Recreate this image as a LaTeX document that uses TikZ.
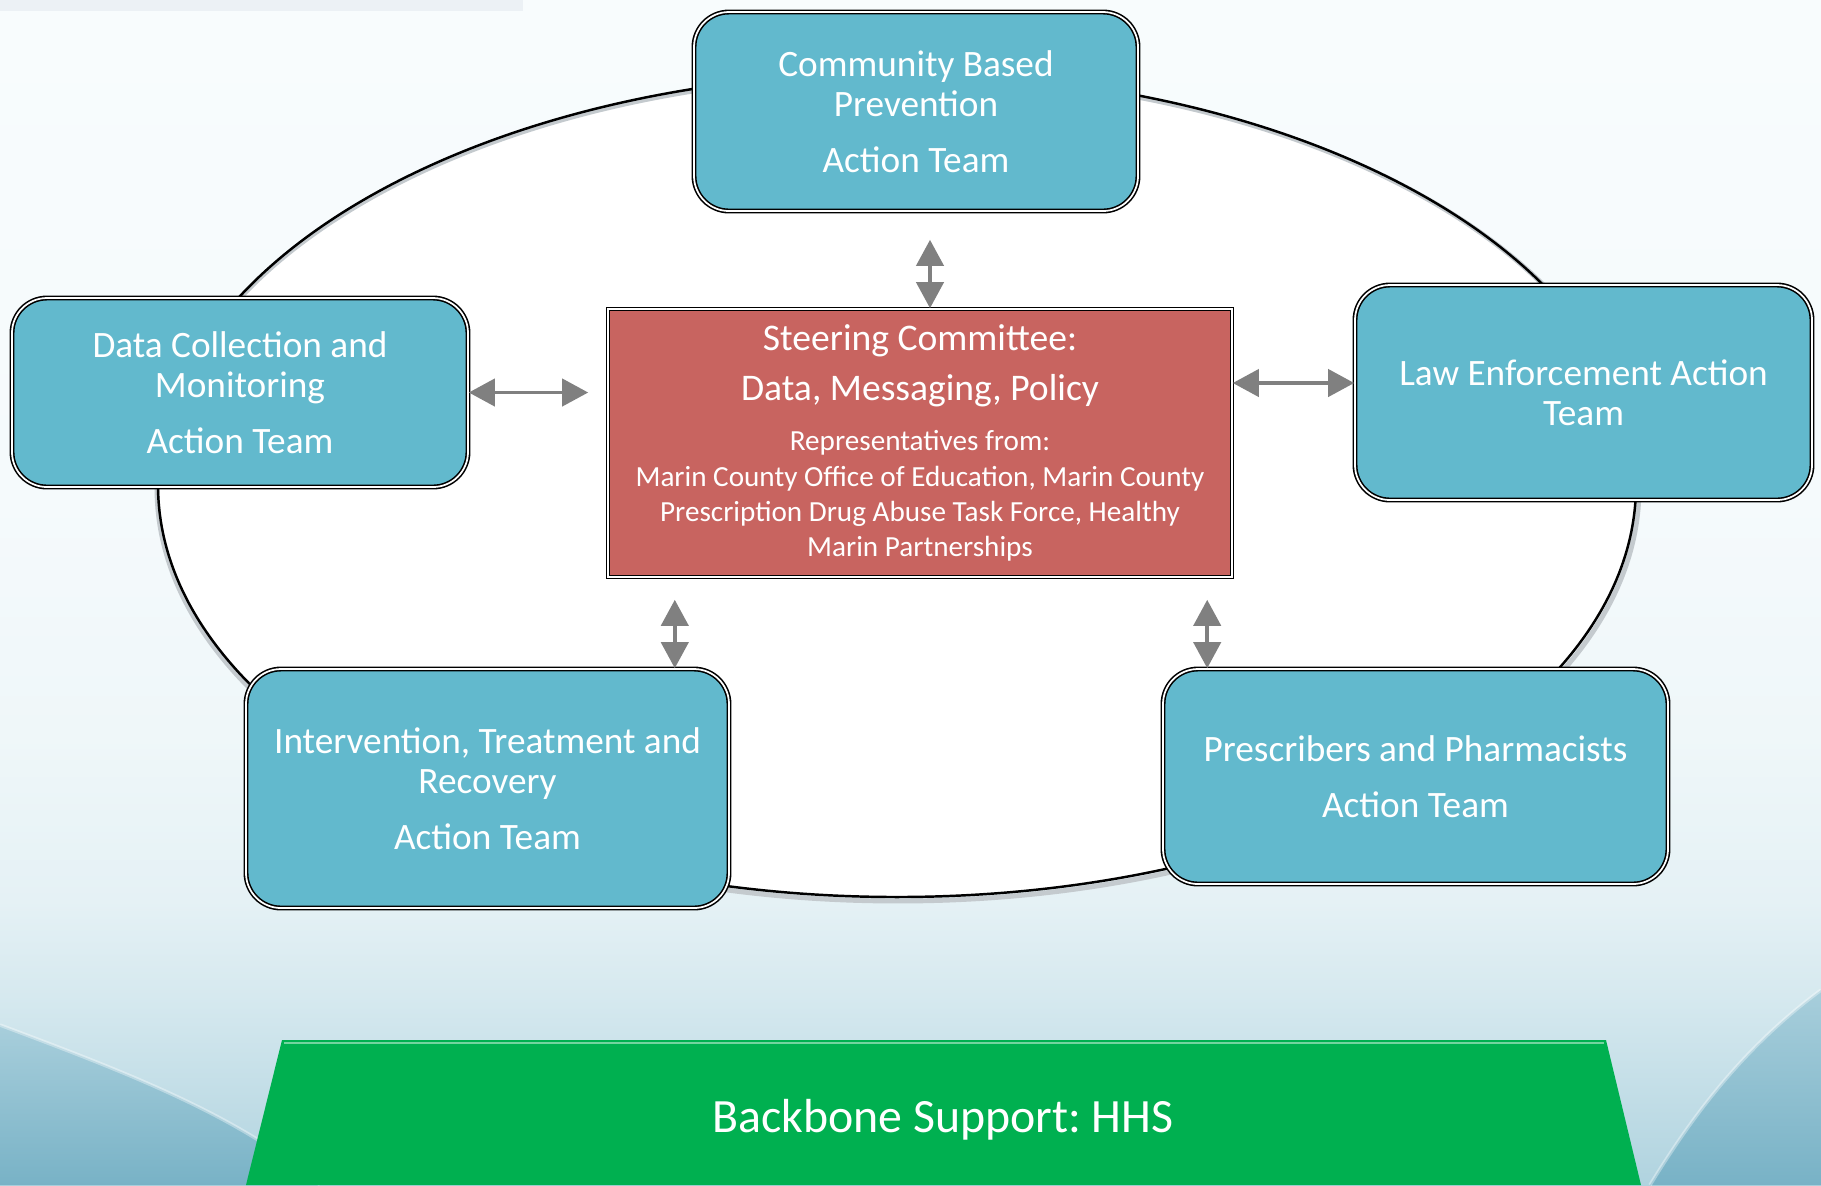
\documentclass[tikz,border=0pt]{standalone}
\usepackage{fontspec}
\setmainfont{Carlito}
\usepackage{tikz}
\usetikzlibrary{shapes, arrows.meta, positioning}
\frenchspacing
\definecolor{teamblue}{RGB}{98,185,205}
\definecolor{steerred}{RGB}{200,100,96}
\definecolor{hhsgreen}{RGB}{0,176,80}
\definecolor{arrowgray}{RGB}{128,128,128}
\definecolor{bga}{RGB}{176,211,223}
\definecolor{bgb}{RGB}{195,222,231}
\definecolor{bgc}{RGB}{214,233,239}
\definecolor{bgd}{RGB}{229,241,245}
\definecolor{bge}{RGB}{239,247,249}
\definecolor{bgf}{RGB}{245,250,252}
\definecolor{bgg}{RGB}{248,252,253}
\definecolor{bgcorner}{RGB}{120,178,198}
\definecolor{stripgray}{RGB}{236,241,245}
\definecolor{ellshadow}{RGB}{196,202,206}
\pgfdeclareverticalshading{bgshade}{100bp}{color(0bp)=(bga); color(25bp)=(bga); color(29bp)=(bgb); color(33bp)=(bgc); color(37bp)=(bgd); color(44bp)=(bge); color(54bp)=(bgf); color(75bp)=(bgg); color(100bp)=(bgg)}
\tikzstyle{tnode} = [rectangle, rounded corners=0.35cm, fill=teamblue, draw=black, double=white, double distance=0.5pt, line width=0.45pt, text=white, align=flush center, font=\fontsize{10.6}{11.4}\selectfont, inner sep=0pt]
\tikzstyle{snode} = [rectangle, fill=steerred, draw=black, double=white, double distance=0.5pt, line width=0.45pt, text=white, align=flush center, text width=6.1cm, inner sep=0pt]
\tikzstyle{dline} = [draw=arrowgray, line width=1.1pt, {Triangle[length=7.4pt,width=7.7pt]}-{Triangle[length=7.4pt,width=7.7pt]}]

\begin{document}
\begin{tikzpicture}
	\useasboundingbox (0,0) rectangle (18.21,-11.85);
	\clip (0,0) rectangle (18.21,-11.85);
	\shade [shading=bgshade] (0,0) rectangle (18.21,-11.85);
	\shade [top color=bga!85!bgcorner, bottom color=bgcorner] (0,-10.25) .. controls (1.2,-10.7) and (2.4,-11.15) .. (3.2,-11.85) -- (0,-11.85) -- cycle;
	\shade [top color=bga!85!bgcorner, bottom color=bgcorner] (18.21,-9.9) .. controls (17.4,-10.5) and (16.9,-11.2) .. (16.5,-11.85) -- (18.21,-11.85) -- cycle;
	\draw [white, opacity=0.35, line width=1pt] (0,-10.25) .. controls (1.2,-10.7) and (2.4,-11.15) .. (3.2,-11.85);
	\draw [white, opacity=0.35, line width=1pt] (18.21,-9.9) .. controls (17.4,-10.5) and (16.9,-11.2) .. (16.5,-11.85);
	\fill [stripgray] (0,0) rectangle (5.23,-0.11);

	\fill [white] (8.97,-4.85) ellipse [x radius=7.39, y radius=4.12];
	\draw [ellshadow, line width=1.4pt] (8.98,-4.88) ellipse [x radius=7.41, y radius=4.13];
	\draw [line width=0.7pt] (8.97,-4.85) ellipse [x radius=7.39, y radius=4.12];

	\node [tnode, minimum width=4.44cm, minimum height=1.99cm] (comm) at (9.16,-1.115) {Community Based\\Prevention\\[4.4pt]Action Team};
	\node [tnode, minimum width=4.56cm, minimum height=1.89cm] (data) at (2.40,-3.925) {Data Collection and\\Monitoring\\[4.4pt]Action Team};
	\node [tnode, minimum width=4.57cm, minimum height=2.15cm] (law) at (15.835,-3.925) {Law Enforcement Action\\Team};
	\node [tnode, minimum width=4.83cm, minimum height=2.39cm] (interv) at (4.875,-7.885) {Intervention, Treatment and\\Recovery\\[4.4pt]Action Team};
	\node [tnode, minimum width=5.05cm, minimum height=2.15cm] (presc) at (14.155,-7.765) {Prescribers and Pharmacists\\[4.4pt]Action Team};
	\node [snode, minimum width=6.24cm, minimum height=2.68cm] (steer) at (9.20,-4.43) {\vspace*{1.5pt}{\fontsize{10.7}{12.5}\selectfont Steering Committee:\\Data, Messaging, Policy\par}\vspace{4.5pt}{\fontsize{8.3}{10}\selectfont Representatives from:\\Marin County Office of Education, Marin County\\Prescription Drug Abuse Task Force, Healthy\\Marin Partnerships\par}};

	\path [dline, shorten >=0.28cm] ([xshift=0.1cm]steer.north) -- ([xshift=0.1cm]steer.north |- comm.south);
	\path [dline, shorten >=0.19cm] (data.east) -- (data.east -| steer.west);
	\path [dline] ([yshift=0.095cm]law.west) -- ([yshift=0.095cm]law.west -| steer.east);
	\path [dline, shorten >=0.22cm] ([xshift=-0.55cm]interv.north east) -- ([xshift=-0.55cm]interv.north east |- steer.south);
	\path [dline, shorten >=0.22cm] ([xshift=0.45cm]presc.north west) -- ([xshift=0.45cm]presc.north west |- steer.south);

	\fill [hhsgreen] (2.82,-10.40) -- (16.06,-10.40) -- (16.41,-11.85) -- (2.46,-11.85) -- cycle;
	\draw [hhsgreen!55!white, line width=0.5pt] (2.84,-10.43) -- (16.04,-10.43);
	\node [text=white, font=\fontsize{13.6}{16}\selectfont, anchor=base] (hhs) at (9.43,-11.32) {Backbone Support: HHS};
\end{tikzpicture}
\end{document}
